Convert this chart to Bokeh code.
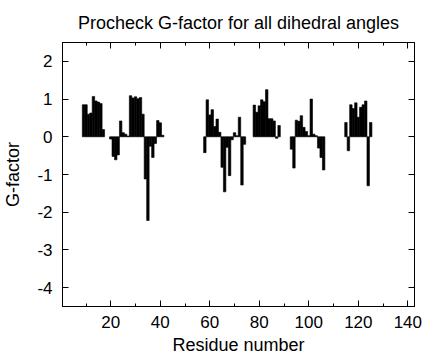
from bokeh.plotting import figure
from bokeh.models import FixedTicker, LinearAxis, Range1d
from bokeh.embed import file_html
from bokeh.resources import INLINE

# --- data -----------------------------------------------------------------
residues = [9, 10, 11, 12, 13, 14, 15, 16, 17,
            20, 21, 22, 23, 24, 25, 26, 27,
            28, 29, 30, 31, 32, 33, 34, 35, 36, 37, 38, 39, 40, 41,
            58, 59, 60, 61, 62, 63, 64, 65, 66, 67, 68, 69, 70, 71, 72, 73, 74,
            78, 79, 80, 81, 82, 83, 84, 85, 86, 87, 88,
            93, 94, 95, 96, 97, 98, 99, 100, 101, 102, 103, 104, 105, 106,
            115, 116, 117, 118, 119, 120, 121, 122, 123, 124, 125]
gfactor = [0.85, 0.85, 0.60, 0.63, 1.07, 0.95, 0.92, 0.88, 0.19,
           -0.06, -0.52, -0.61, -0.48, 0.42, 0.11, 0.07, 0.02,
           1.09, 1.03, 1.06, 1.01, 1.04, 0.60, -1.12, -2.22, -0.25, -0.55, -0.18, 0.43, 0.37, 0.04,
           -0.42, 0.98, 0.58, 0.72, 0.27, 0.47, 0.12, -0.81, -1.46, -0.28, -1.03, -0.08, 0.11, 0.03, 0.52, -1.28, -0.20,
           0.84, 0.65, 0.82, 0.98, 0.93, 1.25, 0.48, 0.48, 0.42, -0.04, 0.30,
           -0.33, -0.83, 0.44, 0.41, 0.56, 0.25, 0.14, 0.03, 1.00, 0.07, 0.03, -0.30, -0.55, -0.88,
           0.38, -0.37, 0.85, 0.75, 0.90, 0.52, 0.78, 0.85, 0.95, -1.30, 0.38]

x_ticks = [20, 40, 60, 80, 100, 120, 140]
x_minor_ticks = [10, 30, 50, 70, 90, 110, 130]
y_ticks = [-4, -3, -2, -1, 0, 1, 2]
y_tick_labels = ["-4", "-3", "-2", "-1", "0", "1", "2"]

title_text = "Procheck G-factor for all dihedral angles"
x_label = "Residue number"
y_label = "G-factor"

FONT = "Liberation Sans"

# --- figure ---------------------------------------------------------------
p = figure(width=424, height=360, output_backend="svg", toolbar_location=None,
           x_range=Range1d(0.5, 142.7), y_range=Range1d(-4.5, 2.5),
           title=title_text,
           min_border_left=62, min_border_right=10,
           min_border_top=42, min_border_bottom=54)

p.vbar(x=residues, top=gfactor, bottom=0, width=1,
       fill_color="black", line_color="black", line_width=0.6)

p.grid.visible = False
p.outline_line_color = "black"
p.outline_line_width = 1
p.background_fill_color = "white"
p.border_fill_color = "white"

p.title.text_font = FONT
p.title.text_font_size = "18px"
p.title.text_font_style = "normal"
p.title.text_color = "black"
p.title.align = "center"
p.title.standoff = 20

xt = FixedTicker(ticks=x_ticks, minor_ticks=x_minor_ticks)
yt = FixedTicker(ticks=y_ticks, minor_ticks=[])

def style(ax):
    ax.axis_line_color = "black"
    ax.major_tick_line_color = "black"
    ax.minor_tick_line_color = "black"
    ax.major_tick_in = 6
    ax.major_tick_out = 0
    ax.minor_tick_in = 3
    ax.minor_tick_out = 0
    ax.major_label_text_font = FONT
    ax.major_label_text_font_size = "17px"
    ax.major_label_text_color = "black"
    ax.axis_label_text_font = FONT
    ax.axis_label_text_font_size = "18px"
    ax.axis_label_text_font_style = "normal"
    ax.axis_label_text_color = "black"

xa = p.xaxis[0]
xa.ticker = xt
style(xa)
xa.axis_label = x_label
xa.major_label_standoff = 9
xa.axis_label_standoff = 4

ya = p.yaxis[0]
ya.ticker = yt
style(ya)
ya.axis_label = y_label
ya.major_label_overrides = {t: s for t, s in zip(y_ticks, y_tick_labels)}
ya.major_label_standoff = 10
ya.axis_label_standoff = 11

# mirror ticks (no labels): positions drawn as minor ticks only
top_major = LinearAxis(ticker=FixedTicker(ticks=[], minor_ticks=x_ticks))
style(top_major)
top_major.minor_tick_in = 6
p.add_layout(top_major, "above")

top_minor = LinearAxis(ticker=FixedTicker(ticks=[], minor_ticks=x_minor_ticks))
style(top_minor)
top_minor.minor_tick_in = 3
p.add_layout(top_minor, "above")

right_ax = LinearAxis(ticker=FixedTicker(ticks=[], minor_ticks=y_ticks))
style(right_ax)
right_ax.minor_tick_in = 6
p.add_layout(right_ax, "right")

open("out.html", "w").write(file_html(p, INLINE))
